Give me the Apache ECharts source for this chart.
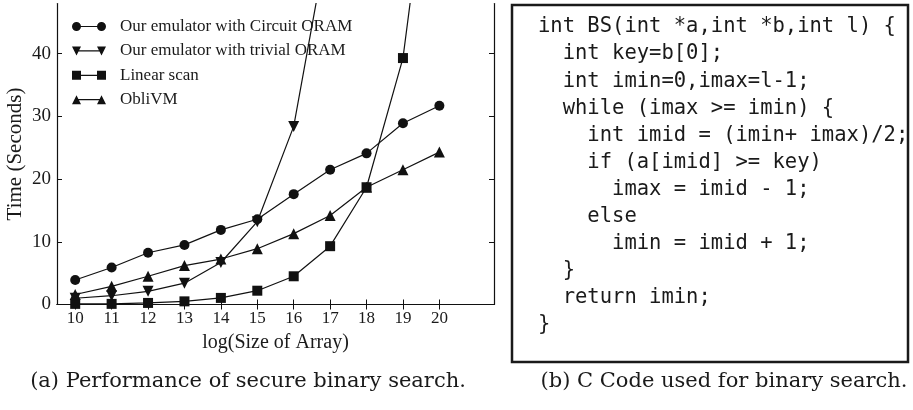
<!DOCTYPE html>
<html>
<head>
<meta charset="utf-8">
<title>Secure binary search</title>
<script src="https://cdn.jsdelivr.net/npm/echarts@6/dist/echarts.min.js"></script>
<style>
  html, body { margin: 0; padding: 0; background: #fff; }
  #chart { width: 913px; height: 410px; }
</style>
</head>
<body>
<div id="chart"></div>
<script>
// log2 of array size
var sizes = [10, 11, 12, 13, 14, 15, 16, 17, 18, 19, 20];

// time in seconds
var circuitOram = [3.9, 5.9, 8.25, 9.5, 11.9, 13.6, 17.6, 21.5, 24.1, 28.9, 31.7];
var trivialOram = [1.0, 1.4, 2.1, 3.4, 6.7, 13.2, 28.4, 60.4];
var linearScan = [0.1, 0.1, 0.25, 0.5, 1.05, 2.2, 4.5, 9.3, 18.7, 39.3, 84];
var obliVM = [1.6, 2.9, 4.5, 6.2, 7.25, 8.9, 11.3, 14.2, 18.7, 21.5, 24.3];

var seriesNames = [
    'Our emulator with Circuit ORAM',
    'Our emulator with trivial ORAM',
    'Linear scan',
    'ObliVM'
];

var yTicks = [0, 10, 20, 30, 40];

var codeLines = [
    'int BS(int *a,int *b,int l) {',
    '  int key=b[0];',
    '  int imin=0,imax=l-1;',
    '  while (imax >= imin) {',
    '    int imid = (imin+ imax)/2;',
    '    if (a[imid] >= key)',
    '      imax = imid - 1;',
    '    else',
    '      imin = imid + 1;',
    '  }',
    '  return imin;',
    '}'
];

var captionA = '(a) Performance of secure binary search.';
var captionB = '(b) C Code used for binary search.';

function pairs(vals) {
    var out = [];
    for (var i = 0; i < vals.length; i++) {
        out.push([sizes[i], vals[i]]);
    }
    return out;
}

var ink = '#111';
var textInk = '#1a1a1a';
var serif = '"Liberation Serif", "Times New Roman", serif';

// legend icons: marker - line - marker
var icons = [
    'path://M0,4.5A4.5,4.5,0,1,1,9,4.5A4.5,4.5,0,1,1,0,4.5ZM4.5,3.9H29.5V5.1H4.5ZM25,4.5A4.5,4.5,0,1,1,34,4.5A4.5,4.5,0,1,1,25,4.5Z',
    'path://M0,0H9L4.5,9ZM4.5,3.9H29.5V5.1H4.5ZM25,0H34L29.5,9Z',
    'path://M0,0H9V9H0ZM4.5,3.9H29.5V5.1H4.5ZM25,0H34V9H25Z',
    'path://M0,9L4.5,0L9,9ZM4.5,3.9H29.5V5.1H4.5ZM25,9L29.5,0L34,9Z'
];

function lineSeries(idx, vals, symbol, size, rotate) {
    return {
        name: seriesNames[idx],
        type: 'line',
        data: pairs(vals),
        symbol: symbol,
        symbolSize: size,
        symbolRotate: rotate || 0,
        showAllSymbol: true,
        clip: true,
        lineStyle: {color: ink, width: 1.2},
        itemStyle: {color: ink, borderWidth: 0},
        emphasis: {disabled: true},
        z: 3
    };
}

function caption(text, x) {
    return {
        type: 'text',
        x: x,
        y: 382,
        style: {
            text: text,
            font: '21px "DejaVu Serif", serif',
            fill: textInk,
            textAlign: 'center',
            textVerticalAlign: 'middle'
        }
    };
}

var chart = echarts.init(document.getElementById('chart'), null, {renderer: 'canvas'});

// code listing of panel (b), one text per line
var graphics = [];
for (var i = 0; i < codeLines.length; i++) {
    graphics.push({
        type: 'text',
        x: 538,
        y: 27 + i * 27.1,
        style: {
            text: codeLines[i],
            font: '20.5px "DejaVu Sans Mono", monospace',
            fill: textInk,
            textVerticalAlign: 'middle'
        }
    });
}
graphics.push({
    type: 'rect',
    shape: {x: 512, y: 5, width: 396, height: 357},
    style: {fill: 'none', stroke: textInk, lineWidth: 2.5},
    z: 10
});
graphics.push(caption(captionA, 248));
graphics.push(caption(captionB, 724));

var option = {
    animation: false,
    backgroundColor: '#fff',
    grid: {left: 57, top: 3.5, width: 437, height: 301},
    legend: {
        orient: 'vertical',
        left: 67,
        top: 13,
        itemWidth: 52,
        itemHeight: 9,
        itemGap: 7.4,
        selectedMode: false,
        textStyle: {fontFamily: serif, fontSize: 17, color: textInk},
        data: seriesNames.map(function (n, k) {
            return {name: n, icon: icons[k]};
        })
    },
    xAxis: [
        {
            type: 'value',
            min: 9.5,
            max: 21.5,
            name: 'log(Size of Array)',
            nameLocation: 'middle',
            nameGap: 18,
            nameTextStyle: {fontFamily: serif, fontSize: 20, color: textInk},
            axisLine: {lineStyle: {color: ink, width: 1.2}},
            axisTick: {inside: true, length: 5, customValues: sizes, lineStyle: {color: ink}},
            axisLabel: {customValues: sizes, margin: 6, fontFamily: serif, fontSize: 17, color: textInk},
            splitLine: {show: false}
        },
        {
            type: 'value',
            position: 'top',
            min: 9.5,
            max: 21.5,
            axisLine: {lineStyle: {color: ink, width: 1.2}},
            axisTick: {inside: true, length: 5, customValues: sizes, lineStyle: {color: ink}},
            axisLabel: {show: false},
            splitLine: {show: false}
        }
    ],
    yAxis: [
        {
            type: 'value',
            min: 0,
            max: 48,
            name: 'Time (Seconds)',
            nameLocation: 'middle',
            nameGap: 31,
            nameTextStyle: {fontFamily: serif, fontSize: 21, color: textInk},
            axisLine: {show: true, lineStyle: {color: ink, width: 1.2}},
            axisTick: {show: true, inside: true, length: 5, customValues: yTicks, lineStyle: {color: ink}},
            axisLabel: {customValues: yTicks, margin: 6, fontFamily: serif, fontSize: 19, color: textInk},
            splitLine: {show: false}
        },
        {
            type: 'value',
            position: 'right',
            min: 0,
            max: 48,
            axisLine: {show: true, lineStyle: {color: ink, width: 1.2}},
            axisTick: {show: true, inside: true, length: 5, customValues: yTicks, lineStyle: {color: ink}},
            axisLabel: {show: false},
            splitLine: {show: false}
        }
    ],
    series: [
        lineSeries(0, circuitOram, 'circle', 10),
        lineSeries(1, trivialOram, 'triangle', 11, 180),
        lineSeries(2, linearScan, 'rect', 10),
        lineSeries(3, obliVM, 'triangle', 11)
    ],
    graphic: graphics
};

chart.setOption(option);
</script>
</body>
</html>
